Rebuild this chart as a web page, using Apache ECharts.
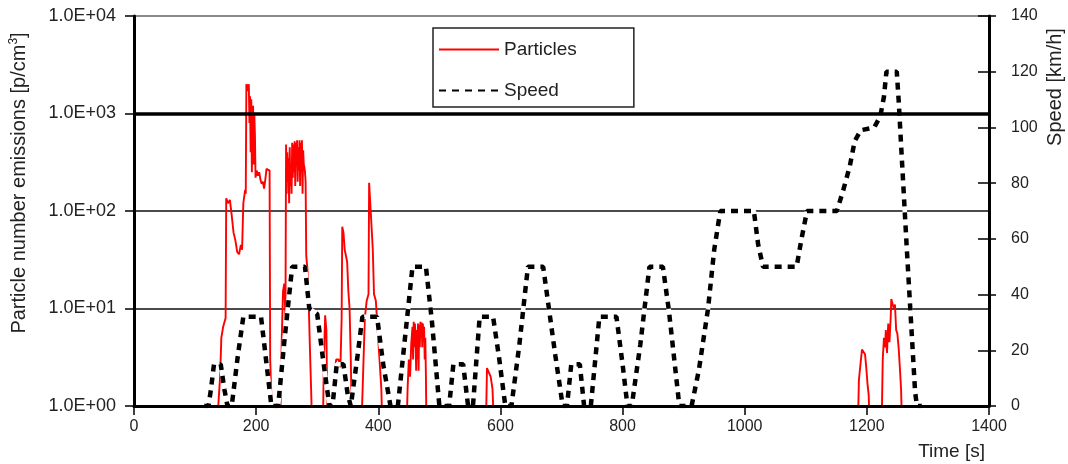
<!DOCTYPE html>
<html>
<head>
<meta charset="utf-8">
<script src="https://cdn.jsdelivr.net/npm/echarts@6/dist/echarts.min.js"></script>
<style>
html,body{margin:0;padding:0;background:#fff;}
#chart{width:1068px;height:464px;}
</style>
</head>
<body>
<div id="chart"></div>
<script>
// ---- data ----
// particle number emissions [p/cm3] vs time [s]; 0.5 = below axis (not visible)
const particleReadings = [
  [0,0.5],[136,0.5],[138,1],[141,2],[143,5],[146,6.5],[148,6.5],[150,8],[151,135],[154,120],[157,130],[160,90],
  [163,60],[166,50],[169,38],[172,36],[175,45],[177,40],[179,120],[182,165],[183,150],[184,2000],[186,1900],
  [187,1700],[188,2000],[189,800],[190,1500],[191,400],[192,1400],[193,250],[194,1000],[195,1200],[196,300],
  [197,1000],[198,600],[199,220],[201,260],[203,230],[205,250],[207,210],[209,190],[211,200],[213,170],[215,210],
  [217,270],[220,275],[222,260],[223,3],[225,1.2],[226,0.5],
  [238,0.5],[240,1],[242,5],[244,15],[246,18],[248,8],[249,480],[250,150],[251,400],[252,200],[253,350],[254,120],
  [255,450],[256,180],[257,300],[258,150],[259,500],[260,220],[261,480],[262,250],[263,520],[264,180],[265,500],
  [266,300],[267,530],[268,200],[269,450],[270,260],[271,530],[272,180],[273,500],[274,250],[275,530],[276,150],
  [277,420],[278,300],[279,280],[280,250],[281,200],[282,35],[284,25],[286,12],[288,4],[290,1.5],[292,0.5],
  [309,0.5],[311,3],[313,8.5],[315,6],[317,0.5],
  [324,0.5],[327,1.5],[331,3],[335,3],[338,2.5],[340,8],[341,69],[343,60],[345,40],[347,35],[349,30],[351,15],
  [353,10],[355,3],[357,0.5],
  [372,0.5],[375,2],[378,8],[381,12],[384,14],[385,195],[387,190],[389,69],[391,40],[393,14],[396,12],[399,6],
  [402,3],[405,1.5],[407,0.5],
  [446,0.5],[448,1.5],[450,3],[452,2],[454,4.4],[456,6.5],[457,3],[458,7.3],[459,4],[460,7],[461,5],[462,2.3],
  [463,6],[464,3],[465,7],[466,2.3],[467,6.8],[468,4],[469,7.3],[470,5],[471,7.2],[472,4],[473,7],[474,5],
  [475,6.5],[476,3],[477,5],[478,2],[479,0.5],
  [576,0.5],[578,2.45],[581,2.4],[584,2],[587,1.5],[590,0.5],
  [1185,0.5],[1187,1.85],[1190,1.8],[1192,3.8],[1195,3.7],[1197,3.4],[1199,2.5],[1201,1.7],[1203,1.3],[1205,0.5],
  [1224,0.5],[1226,3],[1228,5],[1230,4],[1231,6],[1233,3.5],[1235,7],[1237,4.5],[1239,8],[1240,12.5],[1242,12],
  [1244,10],[1246,11],[1248,6],[1250,5.5],[1252,4],[1254,2.5],[1256,1.5],[1258,0.5],[1400,0.5]
];
// vehicle speed [km/h] vs time [s]
const speedReadings = [
  [115,0],[122,0],[126,6],[131,15],[142,15],[148,6],[153,0],
  [160,0],[170,18],[179,32],[208,32],[216,17],[225,0],
  [236,0],[247,25],[259,50],[280,50],[287,35],[300,33],[310,16],[320,0],
  [325,0],[332,15],[343,15],[350,4],[355,0],
  [357,0],[366,18],[374,32],[398,32],[408,15],[420,0],
  [432,0],[444,25],[456,50],[478,50],[488,30],[500,0],
  [516,0],[523,15],[539,15],[547,0],
  [555,0],[566,32],[588,32],[598,17],[608,0],
  [618,0],[631,22],[645,50],[670,50],[680,34],[690,18],[702,0],
  [709,0],[716,15],[730,15],[737,0],
  [748,0],[762,32],[790,32],[800,15],[808,0],
  [815,0],[829,22],[844,50],[866,50],[876,34],[893,0],
  [913,0],[925,13],[940,35],[950,56],[960,70],
  [1015,70],[1022,58],[1030,50],[1085,50],[1093,60],[1102,70],
  [1151,70],[1162,78],[1172,86],[1180,95],[1190,99],[1212,100],[1222,104],[1228,111],[1232,120],[1249,120],
  [1252,110],[1265,58],[1279,5],[1282,0],[1290,0]
];
const seriesNames = ['Particles', 'Speed'];
const leftTickLabels = ['1.0E+00','1.0E+01','1.0E+02','1.0E+03','1.0E+04'];
const gridHighlightValue = 1000;

const FONT = "'Liberation Sans', Arial, Helvetica, sans-serif";
const TXT = '#222';
const GRID = {left: 134, right: 79, top: 16, bottom: 58, containLabel: false, outerBoundsMode: 'none'};

const chart = echarts.init(document.getElementById('chart'), null, {renderer: 'canvas'});
chart.setOption({
  animation: false,
  backgroundColor: '#fff',
  grid: [Object.assign({}, GRID), Object.assign({}, GRID)],
  legend: {
    data: seriesNames,
    orient: 'vertical',
    left: 433, top: 28,
    itemWidth: 60, itemHeight: 14, itemGap: 22, itemTextGap: 17,
    padding: [12, 57, 7, 5],
    borderColor: '#222', borderWidth: 1.5,
    backgroundColor: '#fff',
    itemStyle: {opacity: 0},
    textStyle: {fontSize: 19, color: TXT, fontFamily: FONT},
    selectedMode: false
  },
  xAxis: [
    {
      type: 'value', min: 0, max: 1400, interval: 200, gridIndex: 0,
      z: 10,
      axisLine: {show: true, lineStyle: {color: '#000', width: 3}},
      axisTick: {show: true, length: 9, lineStyle: {color: '#000', width: 1.5}},
      axisLabel: {fontSize: 16, color: TXT, fontFamily: FONT, margin: 13, formatter: function (v) { return String(v); }},
      splitLine: {show: false}
    },
    {
      type: 'value', min: 0, max: 1400, gridIndex: 1, show: false
    }
  ],
  yAxis: [
    {
      type: 'log', logBase: 10, min: 1, max: 10000, position: 'left', gridIndex: 0,
      axisLine: {show: true, onZero: false, lineStyle: {color: '#000', width: 3}},
      axisTick: {show: true, length: 9, lineStyle: {color: '#000', width: 1.5}},
      axisLabel: {
        fontSize: 18, color: TXT, fontFamily: FONT, margin: 18,
        formatter: function (v) { return leftTickLabels[Math.round(Math.log10(v))]; }
      },
      splitLine: {show: true, lineStyle: {color: ['#000', '#4a4a4a', '#4a4a4a', '#000', '#8a8a8a'], width: 2}}
    },
    {
      type: 'value', min: 0, max: 140, interval: 20, position: 'right', gridIndex: 0,
      axisLine: {show: true, onZero: false, lineStyle: {color: '#000', width: 3}},
      axisTick: {show: true, length: 7, lineStyle: {color: '#000', width: 1.5}},
      axisLabel: {fontSize: 16, color: TXT, fontFamily: FONT, margin: 22},
      splitLine: {show: false}
    },
    {
      type: 'value', min: 0, max: 140, interval: 20, position: 'right', gridIndex: 1,
      axisLine: {show: false, onZero: false},
      axisTick: {show: true, inside: true, length: 11, lineStyle: {color: '#000', width: 1.5}},
      axisLabel: {show: false},
      splitLine: {show: false}
    }
  ],
  series: [
    {
      name: 'grid1000', type: 'line', xAxisIndex: 0, yAxisIndex: 0, data: [], z: 1, silent: true,
      markLine: {
        silent: true, symbol: 'none', animation: false,
        label: {show: false},
        lineStyle: {color: '#000', width: 3.5, type: 'solid'},
        data: [{yAxis: gridHighlightValue}]
      }
    },
    {
      name: 'Particles', type: 'line', xAxisIndex: 0, yAxisIndex: 0, data: particleReadings,
      symbol: 'none', showSymbol: false, z: 2,
      lineStyle: {color: '#ff0000', width: 1.9},
      itemStyle: {color: '#ff0000'}
    },
    {
      name: 'speedBacking', type: 'line', xAxisIndex: 0, yAxisIndex: 1, data: speedReadings,
      symbol: 'none', z: 3, silent: true,
      lineStyle: {color: '#fff', width: 4.5, type: 'solid'}
    },
    {
      name: 'Speed', type: 'line', xAxisIndex: 0, yAxisIndex: 1, data: speedReadings,
      symbol: 'none', showSymbol: false, z: 4,
      lineStyle: {color: '#000', width: 4.5, type: [7, 6], cap: 'butt'},
      itemStyle: {color: '#000'}
    }
  ],
  graphic: [
    {
      type: 'text', x: 19, y: 183, rotation: Math.PI / 2,
      style: {
        text: '{a|Particle number emissions [p/cm}{s|3}{a|]}',
        align: 'center', verticalAlign: 'middle',
        rich: {
          a: {fontSize: 20, fontFamily: FONT, fill: TXT, lineHeight: 22},
          s: {fontSize: 12, fontFamily: FONT, fill: TXT, verticalAlign: 'top', lineHeight: 22, padding: [0,0,8,0]}
        }
      }
    },
    {
      type: 'text', x: 1055, y: 87, rotation: Math.PI / 2,
      style: {text: 'Speed [km/h]', align: 'center', verticalAlign: 'middle', font: '20px ' + FONT, fill: TXT}
    },
    {
      type: 'text', x: 985, y: 452,
      style: {text: 'Time [s]', align: 'right', verticalAlign: 'middle', font: '19px ' + FONT, fill: TXT}
    }
  ]
});
</script>
</body>
</html>
